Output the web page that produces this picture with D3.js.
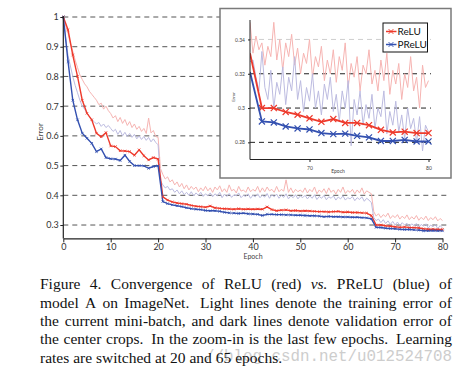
<!DOCTYPE html>
<html>
<head>
<meta charset="utf-8">
<script src="https://cdn.jsdelivr.net/npm/d3@7"></script>
<style>
  body { margin: 0; background: #fff; }
  svg { display: block; }
</style>
</head>
<body>
<svg id="fig" width="468" height="374"></svg>
<script>
// validation error, one value per epoch 0..80
const valRelu = [1.0, 0.957, 0.872, 0.80, 0.72, 0.676, 0.654, 0.609, 0.597, 0.611,
  0.566, 0.564, 0.55, 0.549, 0.547, 0.535, 0.553, 0.533, 0.519, 0.527,
  0.522, 0.395, 0.384, 0.378, 0.374, 0.372, 0.370, 0.366, 0.363, 0.362,
  0.360, 0.364, 0.358, 0.356, 0.355, 0.354, 0.353, 0.355, 0.353, 0.354,
  0.353, 0.354, 0.353, 0.361, 0.352, 0.348, 0.350, 0.351, 0.348, 0.349,
  0.347, 0.348, 0.347, 0.346, 0.345, 0.345, 0.344, 0.345, 0.346, 0.343,
  0.344, 0.342, 0.342, 0.341, 0.340, 0.332, 0.300, 0.300, 0.2977, 0.2961,
  0.294, 0.292, 0.2936, 0.2913, 0.2913, 0.290, 0.2873, 0.2858, 0.2862, 0.2854, 0.2854];
const valPrelu = [1.0, 0.85, 0.72, 0.654, 0.609, 0.592, 0.575, 0.547, 0.556, 0.527,
  0.523, 0.522, 0.517, 0.535, 0.514, 0.500, 0.500, 0.499, 0.491, 0.497,
  0.499, 0.379, 0.372, 0.368, 0.365, 0.362, 0.358, 0.355, 0.353, 0.352,
  0.349, 0.348, 0.348, 0.346, 0.343, 0.341, 0.340, 0.339, 0.340, 0.338,
  0.337, 0.336, 0.332, 0.336, 0.336, 0.335, 0.335, 0.334, 0.334, 0.333,
  0.333, 0.332, 0.331, 0.331, 0.330, 0.328, 0.329, 0.328, 0.328, 0.327,
  0.327, 0.326, 0.326, 0.325, 0.324, 0.321, 0.2922, 0.2916, 0.2893, 0.2881,
  0.2875, 0.2854, 0.2848, 0.2851, 0.2838, 0.2829, 0.2808, 0.2808, 0.2814, 0.2805, 0.2805];

// mini-batch training error, every half epoch 0..80
const trainRelu = [1.0, 0.97, 0.945, 0.91, 0.885, 0.855, 0.83, 0.805, 0.79, 0.775,
  0.765, 0.75, 0.74, 0.73, 0.72, 0.705, 0.71, 0.69, 0.70, 0.685, 0.675,
  0.66, 0.668, 0.648, 0.662, 0.642, 0.655, 0.635, 0.648, 0.628, 0.64,
  0.622, 0.632, 0.615, 0.625, 0.608, 0.66, 0.61, 0.618, 0.598, 0.595,
  0.49, 0.47, 0.455, 0.462, 0.445, 0.452, 0.435, 0.445, 0.428, 0.44,
  0.422, 0.435, 0.418, 0.43, 0.42, 0.428, 0.412, 0.425, 0.415, 0.43,
  0.415, 0.425, 0.41, 0.428, 0.418, 0.432, 0.412, 0.422, 0.41, 0.435,
  0.415, 0.42, 0.408, 0.43, 0.414, 0.418, 0.41, 0.428, 0.412, 0.42,
  0.414, 0.43, 0.41, 0.425, 0.412, 0.428, 0.415, 0.42, 0.41, 0.43,
  0.412, 0.42, 0.414, 0.452, 0.41, 0.425, 0.408, 0.42, 0.412, 0.418,
  0.41, 0.425, 0.408, 0.42, 0.412, 0.428, 0.405, 0.418, 0.41, 0.422,
  0.406, 0.425, 0.41, 0.418, 0.404, 0.42, 0.41, 0.428, 0.406, 0.416,
  0.41, 0.42, 0.405, 0.418, 0.408, 0.425, 0.404, 0.415, 0.41, 0.405,
  0.345, 0.33, 0.338, 0.325, 0.335, 0.328, 0.34, 0.322, 0.332, 0.325,
  0.335, 0.32, 0.33, 0.322, 0.334, 0.318, 0.328, 0.32, 0.332, 0.316,
  0.326, 0.318, 0.33, 0.315, 0.325, 0.318, 0.328, 0.314, 0.322, 0.315];
const trainPrelu = [1.0, 0.93, 0.87, 0.835, 0.8, 0.77, 0.745, 0.72, 0.70, 0.69,
  0.675, 0.665, 0.655, 0.648, 0.64, 0.645, 0.632, 0.64, 0.628, 0.635, 0.625,
  0.615, 0.622, 0.605, 0.618, 0.6, 0.612, 0.598, 0.608, 0.595, 0.605,
  0.59, 0.6, 0.588, 0.598, 0.585, 0.595, 0.58, 0.59, 0.578, 0.57,
  0.45, 0.435, 0.425, 0.43, 0.418, 0.422, 0.41, 0.418, 0.405, 0.415,
  0.402, 0.41, 0.4, 0.412, 0.398, 0.408, 0.4, 0.41, 0.396, 0.405,
  0.398, 0.408, 0.395, 0.405, 0.398, 0.41, 0.392, 0.404, 0.396, 0.406,
  0.393, 0.402, 0.398, 0.408, 0.392, 0.4, 0.396, 0.405, 0.39, 0.4,
  0.395, 0.405, 0.392, 0.4, 0.394, 0.406, 0.39, 0.402, 0.395, 0.404,
  0.39, 0.4, 0.393, 0.405, 0.388, 0.398, 0.392, 0.402, 0.388, 0.398,
  0.392, 0.4, 0.388, 0.398, 0.39, 0.402, 0.386, 0.396, 0.39, 0.4,
  0.385, 0.395, 0.39, 0.398, 0.384, 0.394, 0.388, 0.398, 0.384, 0.392,
  0.388, 0.396, 0.382, 0.392, 0.386, 0.395, 0.38, 0.39, 0.384, 0.375,
  0.325, 0.315, 0.32, 0.308, 0.318, 0.305, 0.314, 0.302, 0.312, 0.3,
  0.31, 0.298, 0.308, 0.3, 0.306, 0.295, 0.304, 0.298, 0.305, 0.292,
  0.302, 0.296, 0.304, 0.29, 0.3, 0.294, 0.302, 0.288, 0.298, 0.29];

// zoom-in training error, every quarter epoch 65..80
const zoomTrainRelu = [0.35, 0.332, 0.342, 0.334, 0.338, 0.325, 0.336, 0.33, 0.35, 0.328,
  0.34, 0.322, 0.338, 0.33, 0.343, 0.325, 0.335, 0.32, 0.332, 0.326,
  0.34, 0.318, 0.33, 0.324, 0.336, 0.316, 0.328, 0.32, 0.334, 0.315,
  0.33, 0.322, 0.338, 0.312, 0.326, 0.318, 0.33, 0.31, 0.325, 0.32,
  0.334, 0.314, 0.322, 0.31, 0.328, 0.316, 0.332, 0.308, 0.322, 0.314,
  0.326, 0.305, 0.32, 0.312, 0.33, 0.31, 0.318, 0.30, 0.325, 0.312, 0.316];
const zoomTrainPrelu = [0.327, 0.328, 0.318, 0.31, 0.333, 0.312, 0.305, 0.322, 0.3, 0.315,
  0.308, 0.324, 0.302, 0.318, 0.31, 0.33, 0.305, 0.316, 0.298, 0.312,
  0.304, 0.32, 0.3, 0.31, 0.296, 0.314, 0.305, 0.318, 0.298, 0.308,
  0.292, 0.31, 0.3, 0.316, 0.278, 0.305, 0.296, 0.31, 0.29, 0.302,
  0.294, 0.308, 0.288, 0.3, 0.295, 0.31, 0.285, 0.298, 0.29, 0.304,
  0.286, 0.296, 0.282, 0.3, 0.288, 0.294, 0.28, 0.295, 0.275, 0.29, 0.286];

const mainXTicks = [0, 10, 20, 30, 40, 50, 60, 70, 80];
const mainYTicks = [0.3, 0.4, 0.5, 0.6, 0.7, 0.8, 0.9, 1];
const zoomXTicks = [70, 80];
const zoomYTicks = [0.28, 0.3, 0.32, 0.34];
const seriesNames = ['ReLU', 'PReLU'];
const captionLines = [
  'Figure 4. Convergence of ReLU (red) vs. PReLU (blue) of',
  'model A on ImageNet. Light lines denote the training error of',
  'the current mini-batch, and dark lines denote validation error of',
  'the center crops. In the zoom-in is the last few epochs. Learning',
  'rates are switched at 20 and 65 epochs.'
];
const watermark = '//blog.csdn.net/u012524708';

const red = '#ee3a2c', blue = '#3350b0';
const lightRed = '#f6b4b2', lightBlue = '#bcbbe0';
const chartFont = 'Lato, "Open Sans", sans-serif';

const svg = d3.select('#fig');
svg.append('rect').attr('width', 468).attr('height', 374).attr('fill', '#fff');

// ---------- main chart ----------
const x = d3.scaleLinear().domain([0, 80]).range([63.3, 442.5]);
const y = d3.scaleLinear().domain([0.255, 1]).range([238.4, 17]);

const main = svg.append('g').attr('font-family', chartFont);

main.selectAll('.grid')
  .data(mainYTicks)
  .enter().append('line')
  .attr('x1', x(0)).attr('x2', 447)
  .attr('y1', d => y(d)).attr('y2', d => y(d))
  .attr('stroke', '#555').attr('stroke-width', 1).attr('stroke-dasharray', '5,4');

const halfLine = d3.line().x((d, i) => x(i * 0.5)).y(d => y(d));
const epochLine = d3.line().x((d, i) => x(i)).y(d => y(d));

main.append('path').datum(trainRelu).attr('d', halfLine)
  .attr('fill', 'none').attr('stroke', lightRed).attr('stroke-width', 1);
main.append('path').datum(trainPrelu).attr('d', halfLine)
  .attr('fill', 'none').attr('stroke', lightBlue).attr('stroke-width', 1);
main.append('path').datum(valRelu).attr('d', epochLine)
  .attr('fill', 'none').attr('stroke', red).attr('stroke-width', 1.4);
main.append('path').datum(valPrelu).attr('d', epochLine)
  .attr('fill', 'none').attr('stroke', blue).attr('stroke-width', 1.4);

const tinyMark = d3.symbol().type(d3.symbolTimes).size(5);
[[valRelu, red], [valPrelu, blue]].forEach(([vals, col]) => {
  main.selectAll(null)
    .data(vals)
    .enter().append('path')
    .attr('d', tinyMark)
    .attr('transform', (d, i) => `translate(${x(i)},${y(d)})`)
    .attr('fill', 'none').attr('stroke', col).attr('stroke-width', 0.8);
});

const xAxis = main.append('g').attr('transform', `translate(0,${y(0.255)})`)
  .call(d3.axisBottom(x).tickValues(mainXTicks).tickSize(4).tickSizeOuter(0));
const yAxis = main.append('g').attr('transform', `translate(${x(0)},0)`)
  .call(d3.axisLeft(y).tickValues(mainYTicks).tickFormat(d3.format(''))
    .tickSize(3).tickPadding(1.5).tickSizeOuter(0));
[xAxis, yAxis].forEach(a => {
  a.select('.domain').attr('stroke', '#222').attr('stroke-width', 1.2);
  a.selectAll('.tick line').attr('stroke', '#222');
  a.selectAll('.tick text').attr('font-family', chartFont).attr('font-size', 9).attr('fill', '#333');
});
xAxis.selectAll('.tick text').attr('dy', '0.5em');
yAxis.select('.domain').attr('d', `M0,${y(0.255)}V${y(1) - 1}`);

main.append('text').attr('x', 253).attr('y', 259).attr('text-anchor', 'middle')
  .attr('font-size', 7).attr('fill', '#444').text('Epoch');
main.append('text').attr('transform', 'translate(43,132) rotate(-90)').attr('text-anchor', 'middle')
  .attr('font-size', 8).attr('fill', '#444').text('Error');

// ---------- zoom-in ----------
const zx = d3.scaleLinear().domain([65, 80]).range([250, 428.5]);
const zy = d3.scaleLinear().domain([0.27, 0.35]).range([159.5, 22.3]);

const zoom = svg.append('g').attr('font-family', chartFont);
zoom.append('rect').attr('x', 220).attr('y', 8.5).attr('width', 231).attr('height', 169.5)
  .attr('fill', '#fff').attr('stroke', '#7a7a7a').attr('stroke-width', 1.5);

zoom.append('clipPath').attr('id', 'zclip')
  .append('rect').attr('x', 250).attr('y', 18).attr('width', 182).attr('height', 141.5);

zoom.selectAll('.zgrid')
  .data(zoomYTicks)
  .enter().append('line')
  .attr('x1', zx(65)).attr('x2', 431)
  .attr('y1', d => zy(d)).attr('y2', d => zy(d))
  .attr('stroke', d => d === 0.34 ? '#cfcfcf' : '#222')
  .attr('stroke-width', 1).attr('stroke-dasharray', '5,4');

const plot = zoom.append('g').attr('clip-path', 'url(#zclip)');
const quarterLine = d3.line().x((d, i) => zx(65 + i * 0.25)).y(d => zy(d));
plot.append('path').datum(zoomTrainRelu).attr('d', quarterLine)
  .attr('fill', 'none').attr('stroke', lightRed).attr('stroke-width', 1);
plot.append('path').datum(zoomTrainPrelu).attr('d', quarterLine)
  .attr('fill', 'none').attr('stroke', lightBlue).attr('stroke-width', 1);

const tailLine = d3.line().x((d, i) => zx(65 + i)).y(d => zy(d));
const bigMark = d3.symbol().type(d3.symbolTimes).size(26);
[[valRelu, red], [valPrelu, blue]].forEach(([vals, col]) => {
  const tail = vals.slice(65);
  plot.append('path').datum(tail).attr('d', tailLine)
    .attr('fill', 'none').attr('stroke', col).attr('stroke-width', 1.8);
  plot.selectAll(null)
    .data(tail.slice(1))
    .enter().append('path')
    .attr('d', bigMark)
    .attr('transform', (d, i) => `translate(${zx(66 + i)},${zy(d)})`)
    .attr('fill', 'none').attr('stroke', col).attr('stroke-width', 1.2);
});

const zxAxis = zoom.append('g').attr('transform', `translate(0,${zy(0.27)})`)
  .call(d3.axisBottom(zx).tickValues(zoomXTicks).tickSize(2.5).tickSizeOuter(0));
const zyAxis = zoom.append('g').attr('transform', `translate(${zx(65)},0)`)
  .call(d3.axisLeft(zy).tickValues(zoomYTicks).tickFormat(d3.format('')).tickSize(2).tickSizeOuter(0));
[zxAxis, zyAxis].forEach(a => {
  a.select('.domain').attr('stroke', '#222').attr('stroke-width', 1);
  a.selectAll('.tick line').attr('stroke', '#222');
  a.selectAll('.tick text').attr('font-family', chartFont).attr('font-size', 5).attr('fill', '#444');
});
zxAxis.select('.domain').attr('d', `M${zx(65)},0H431`);
zyAxis.select('.domain').attr('d', `M0,${zy(0.27)}V20`);
zxAxis.selectAll('.tick text').attr('dy', '0.9em');

zoom.append('text').attr('x', 338).attr('y', 172.5).attr('text-anchor', 'middle')
  .attr('font-size', 5).attr('fill', '#444').text('Epoch');
zoom.append('text').attr('transform', 'translate(235,97) rotate(-90)').attr('text-anchor', 'middle')
  .attr('font-size', 4.5).attr('fill', '#444').text('Error');

// legend
const legend = zoom.append('g');
legend.append('rect').attr('x', 383).attr('y', 23).attr('width', 44.5).attr('height', 29)
  .attr('fill', '#fff').attr('stroke', '#111').attr('stroke-width', 1);
const smallMark = d3.symbol().type(d3.symbolTimes).size(16);
seriesNames.forEach((name, i) => {
  const col = i === 0 ? red : blue;
  const ly = 31.5 + i * 13;
  legend.append('line').attr('x1', 386).attr('x2', 396.5).attr('y1', ly).attr('y2', ly)
    .attr('stroke', col).attr('stroke-width', 1.5);
  legend.append('path').attr('d', smallMark).attr('transform', `translate(391,${ly})`)
    .attr('fill', 'none').attr('stroke', col).attr('stroke-width', 1);
  legend.append('text').attr('x', 397.5).attr('y', ly + 3.6)
    .attr('font-size', 10).attr('fill', '#111').text(name);
});

// ---------- caption ----------
const capLeft = 40, capRight = 452;
const capBase = [289, 307.5, 326, 344.3, 362.5];

// csdn watermark sits behind the last two caption lines
svg.append('text').attr('x', 205).attr('y', 360.5)
  .attr('font-family', '"Liberation Mono", "DejaVu Sans Mono", monospace')
  .attr('font-size', 17).attr('fill', '#cdcdcd')
  .attr('textLength', 247).attr('lengthAdjust', 'spacingAndGlyphs')
  .text(watermark);

const cap = svg.append('g')
  .attr('font-family', '"Liberation Serif", "Times New Roman", serif')
  .attr('font-size', 15.5).attr('fill', '#111');

captionLines.forEach((line, i) => {
  const words = line.split(' ');
  const nodes = words.map(w => cap.append('text')
    .attr('y', capBase[i])
    .attr('font-style', w === 'vs.' ? 'italic' : null)
    .text(w));
  const widths = nodes.map(n => n.node().getComputedTextLength());
  const weights = words.slice(0, -1).map(w => (/[a-z]\.$/.test(w) && w !== 'vs.') ? 1.7 : 1);
  const last = i === captionLines.length - 1;
  const unit = last ? 3.9 : (capRight - capLeft - d3.sum(widths)) / d3.sum(weights);
  let cx = capLeft;
  nodes.forEach((n, j) => {
    n.attr('x', cx);
    cx += widths[j] + unit * (weights[j] || 0);
  });
});
</script>
</body>
</html>
